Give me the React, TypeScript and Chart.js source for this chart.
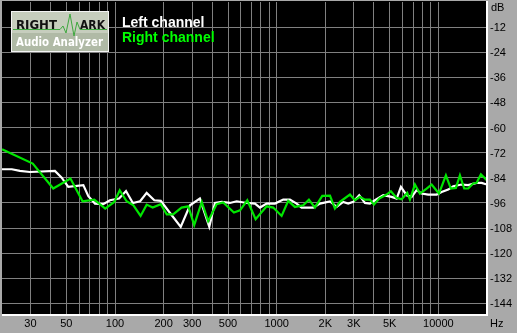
import React, { useEffect, useRef } from "react";
import { Chart, registerables } from "chart.js";

Chart.register(...registerables);

// ---- Data ----
const seriesNames = ["Left channel", "Right channel"];

const leftFreq = [20, 23, 25.8, 29.8, 42.5, 46.8, 51.4, 63.7, 68.4, 75.2, 84.6, 93, 106, 117, 129, 143, 157, 175, 192, 219, 255, 291, 335, 383, 415, 457, 514, 566, 652, 734, 788, 867, 976, 1098, 1208, 1329, 1427, 1684, 1852, 2137, 2350, 2580, 2771, 2976, 3240, 3515, 3774, 4053, 4562, 5140, 5521, 5868, 6366, 6836, 7338, 7880, 8658, 9760, 10478, 11508, 12360, 13930, 15302, 17252, 18520, 20000];
const leftDb = [-79.9, -79.9, -80.7, -81.2, -80.7, -83.9, -88.3, -87.5, -92.8, -96.3, -96.6, -94.7, -93.9, -90.3, -96, -95.2, -91.2, -94.7, -95, -100.8, -107.4, -97.1, -93.9, -107.4, -96, -95.5, -96, -95.2, -96, -96.3, -98.2, -96.3, -96.3, -94.4, -94.4, -96.3, -98.2, -98.2, -96.3, -95.3, -97.9, -95.5, -96.3, -95.5, -92.3, -96, -96.3, -94.7, -92.3, -93.1, -93.9, -88.3, -92.3, -93.1, -89.9, -91.5, -92, -92, -90.8, -89.6, -88, -87.2, -87.5, -86.4, -86.4, -87.2];

const rightFreq = [20, 31, 41.5, 53, 63, 74.5, 87, 99, 107, 118, 130, 144, 157, 171, 192, 209, 229, 258, 284, 309, 344, 377, 425, 467, 544, 593, 658, 741, 867, 952, 1073, 1179, 1297, 1460, 1583, 1725, 1914, 2137, 2293, 2462, 2840, 3049, 3273, 3515, 3774, 3996, 4308, 4787, 5090, 5521, 5929, 6420, 6672, 7164, 7691, 8464, 9090, 10085, 11138, 11958, 12844, 13600, 14456, 15302, 16428, 17252, 18338, 20000];
const rightDb = [-70.4, -77.2, -89.1, -84.3, -95.2, -94.4, -98.7, -95.5, -89.9, -95.2, -97.1, -102.2, -96.8, -98.2, -96.6, -101.5, -101.5, -98.2, -97.6, -106.6, -95.5, -104.7, -96.6, -95.8, -100.6, -99.5, -94.7, -103.8, -97.6, -98.2, -102.2, -95, -97.9, -97.1, -94.4, -98.2, -92.6, -92.5, -98.7, -95.5, -92, -94.7, -93.1, -94.4, -94.4, -96.8, -93.9, -92, -90.4, -93.6, -94.2, -91.2, -94.4, -87.2, -91.5, -89.1, -87.2, -91.5, -82.8, -89.1, -88.8, -82.8, -89.1, -89.1, -86.7, -86.4, -82.3, -85.2];

const xGridValues = [30, 40, 50, 60, 70, 80, 90, 100, 200, 300, 400, 500, 600, 700, 800, 900, 1000, 2000, 3000, 4000, 5000, 6000, 7000, 8000, 9000, 10000];
const xLabelValues = [30, 50, 100, 200, 300, 500, 1000, 2000, 3000, 5000, 10000];
const xLabelTexts = ["30", "50", "100", "200", "300", "500", "1000", "2K", "3K", "5K", "10000"];
const yTickValues = [-12, -24, -36, -48, -60, -72, -84, -96, -108, -120, -132, -144];

const BG = "#a9a9a9";
const GRID = "#808080";
const LEFT_COLOR = "#ffffff";
const RIGHT_COLOR = "#00e600";
const LABEL_FONT = "11px 'Liberation Sans', Arial, sans-serif";

const decorPlugin = {
  id: "rmaaDecor",
  beforeDraw(chart: any) {
    const ctx = chart.ctx as CanvasRenderingContext2D;
    const a = chart.chartArea;
    ctx.save();
    ctx.fillStyle = BG;
    ctx.fillRect(0, 0, chart.width, chart.height);
    ctx.fillStyle = "#000000";
    ctx.fillRect(a.left, a.top - 1, a.right - a.left - 1, a.bottom - a.top - 1);
    ctx.restore();
  },
  afterDraw(chart: any) {
    const ctx = chart.ctx as CanvasRenderingContext2D;
    const a = chart.chartArea;
    const xs = chart.scales.x;
    const ys = chart.scales.y;
    ctx.save();
    // white frame right & bottom
    ctx.fillStyle = "#ffffff";
    ctx.fillRect(a.right - 1, a.top - 1, 2, a.bottom - a.top);
    ctx.fillRect(a.left, a.bottom - 2, a.right - a.left + 1, 2);
    // cover below / right of the frame with gray
    ctx.fillStyle = BG;
    ctx.fillRect(0, a.bottom, chart.width, chart.height - a.bottom);
    ctx.fillRect(a.right + 1, 0, chart.width - a.right, chart.height);

    // axis labels
    ctx.fillStyle = "#000000";
    ctx.font = LABEL_FONT;
    ctx.textBaseline = "alphabetic";
    ctx.textAlign = "left";
    for (const v of yTickValues) {
      const y = ys.getPixelForValue(v);
      ctx.fillText(String(v), a.right + 3, Math.round(y) + 4);
    }
    ctx.fillText("dB", a.right + 4, 11);
    ctx.fillText("Hz", a.right + 3, 327);
    ctx.textAlign = "center";
    xLabelValues.forEach((v, i) => {
      const x = xs.getPixelForValue(v);
      ctx.fillText(xLabelTexts[i], x, 327);
    });

    // logo
    const lx = 11, ly = 11, lw = 98, lh = 41;
    ctx.fillStyle = "#c6cdbd";
    ctx.fillRect(lx, ly, lw, lh);
    ctx.fillStyle = "#b0baa6";
    ctx.fillRect(lx, ly + 22, lw, lh - 22);
    ctx.strokeStyle = "#f4f4f4";
    ctx.lineWidth = 1;
    ctx.strokeRect(lx + 0.5, ly + 0.5, lw - 1, lh - 1);
    ctx.strokeStyle = "#3ea83e";
    ctx.lineWidth = 1;
    ctx.beginPath();
    ctx.moveTo(lx + 2, 29.5);
    ctx.lineTo(60, 29.5);
    ctx.lineTo(63, 26);
    ctx.lineTo(66, 33);
    ctx.lineTo(70, 14);
    ctx.lineTo(74, 36);
    ctx.lineTo(77, 22);
    ctx.lineTo(80, 29.5);
    ctx.lineTo(lx + lw - 2, 29.5);
    ctx.stroke();
    ctx.fillStyle = "#111111";
    ctx.font = "bold 12px 'DejaVu Sans', sans-serif";
    ctx.textAlign = "left";
    ctx.fillText("RIGHT", 16, 29, 41);
    ctx.fillText("ARK", 80, 29, 25);
    ctx.fillStyle = "#ffffff";
    ctx.font = "bold 12px 'DejaVu Sans', sans-serif";
    ctx.fillText("Audio Analyzer", 16, 46, 87);

    // legend
    ctx.font = "bold 14px 'Liberation Sans', Arial, sans-serif";
    ctx.fillStyle = LEFT_COLOR;
    ctx.fillText(seriesNames[0], 122, 27);
    ctx.fillStyle = "#00ff00";
    ctx.fillText(seriesNames[1], 122, 41.5);
    ctx.restore();
  },
};

export default function App() {
  const ref = useRef<HTMLCanvasElement>(null);
  useEffect(() => {
    document.body.style.margin = "0";
    const canvas = ref.current!;
    const chart = new Chart(canvas, {
      type: "line",
      data: {
        datasets: [
          {
            label: seriesNames[1],
            data: rightFreq.map((f, i) => ({ x: f, y: rightDb[i] })),
            borderColor: RIGHT_COLOR,
            borderWidth: 2.2,
            pointRadius: 0,
            tension: 0,
            fill: false,
          },
          {
            label: seriesNames[0],
            data: leftFreq.map((f, i) => ({ x: f, y: leftDb[i] })),
            borderColor: LEFT_COLOR,
            borderWidth: 2.2,
            pointRadius: 0,
            tension: 0,
            fill: false,
          },
        ],
      },
      options: {
        responsive: false,
        animation: false,
        devicePixelRatio: 1,
        layout: { padding: { left: 2, top: 2, right: 30, bottom: 17 } },
        plugins: { legend: { display: false }, tooltip: { enabled: false } },
        scales: {
          x: {
            type: "logarithmic",
            min: 20,
            max: 20000,
            border: { display: false },
            grid: { color: GRID, lineWidth: 1, drawTicks: false },
            ticks: { display: false },
            afterBuildTicks: (s: any) => {
              s.ticks = xGridValues.map((v) => ({ value: v }));
            },
          },
          y: {
            type: "linear",
            min: -150,
            max: 0,
            border: { display: false },
            grid: { color: GRID, lineWidth: 1, drawTicks: false },
            ticks: { display: false },
            afterBuildTicks: (s: any) => {
              s.ticks = yTickValues.map((v) => ({ value: v }));
            },
          },
        },
      },
      plugins: [decorPlugin],
    });
    return () => chart.destroy();
  }, []);
  return (
    <div style={{ width: 517, height: 333, background: BG }}>
      <canvas ref={ref} width={517} height={333} style={{ display: "block" }} />
    </div>
  );
}
